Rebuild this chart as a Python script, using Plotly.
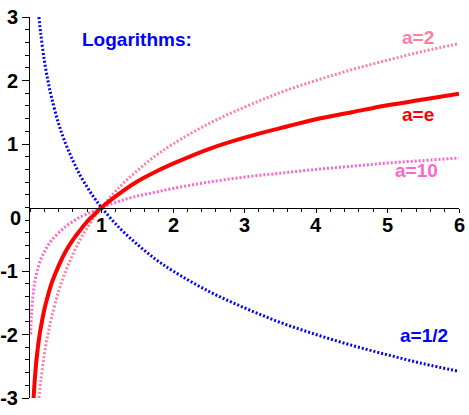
import plotly.graph_objects as go

# ---- data ----
x_e = [0.05, 0.075, 0.1, 0.125, 0.15, 0.2, 0.25, 0.3, 0.4, 0.5, 0.6, 0.7, 0.8, 0.9, 1,
       1.25, 1.5, 1.75, 2, 2.5, 3, 3.5, 4, 4.5, 5, 5.5, 6]
y_e = [-3.0, -2.59, -2.30, -2.08, -1.90, -1.61, -1.39, -1.20, -0.92, -0.69, -0.51, -0.36,
       -0.22, -0.11, 0, 0.22, 0.41, 0.56, 0.69, 0.92, 1.10, 1.25, 1.39, 1.50, 1.61, 1.70, 1.79]

x_2 = [0.125, 0.15, 0.2, 0.25, 0.3, 0.4, 0.5, 0.6, 0.7, 0.8, 0.9, 1,
       1.25, 1.5, 1.75, 2, 2.5, 3, 3.5, 4, 4.5, 5, 5.5, 6]
y_2 = [-3.0, -2.74, -2.32, -2.0, -1.74, -1.32, -1.0, -0.74, -0.51, -0.32, -0.15, 0,
       0.32, 0.58, 0.81, 1.0, 1.32, 1.58, 1.81, 2.0, 2.17, 2.32, 2.46, 2.58]

x_half = [0.125, 0.15, 0.2, 0.25, 0.3, 0.4, 0.5, 0.6, 0.7, 0.8, 0.9, 1,
          1.25, 1.5, 1.75, 2, 2.5, 3, 3.5, 4, 4.5, 5, 5.5, 6]
y_half = [3.0, 2.74, 2.32, 2.0, 1.74, 1.32, 1.0, 0.74, 0.51, 0.32, 0.15, 0,
          -0.32, -0.58, -0.81, -1.0, -1.32, -1.58, -1.81, -2.0, -2.17, -2.32, -2.46, -2.58]

x_10 = [0.01, 0.02, 0.05, 0.075, 0.1, 0.15, 0.2, 0.25, 0.3, 0.4, 0.5, 0.6, 0.7, 0.8, 0.9, 1,
        1.25, 1.5, 1.75, 2, 2.5, 3, 3.5, 4, 4.5, 5, 5.5, 6]
y_10 = [-2.0, -1.70, -1.30, -1.12, -1.0, -0.82, -0.70, -0.60, -0.52, -0.40, -0.30, -0.22,
        -0.15, -0.10, -0.05, 0, 0.10, 0.18, 0.24, 0.30, 0.40, 0.48, 0.54, 0.60, 0.65,
        0.70, 0.74, 0.78]

x_ticks = [1, 2, 3, 4, 5, 6]
y_ticks = [-3, -2, -1, 1, 2, 3]

labels = ["a=2", "a=e", "a=10", "a=1/2"]
label_x = [5.43, 5.43, 5.40, 5.51]
label_y = [2.67, 1.46, 0.59, -2.01]

PINK = "#ff7fa0"
RED = "#ff0000"
HOT = "#ff66cc"
BLUE = "#0000ff"

fig = go.Figure()
fig.add_trace(go.Scatter(x=x_2, y=y_2, mode="lines", line=dict(color=PINK, width=3, dash="2px,2px", shape="spline")))
fig.add_trace(go.Scatter(x=x_10, y=y_10, mode="lines", line=dict(color=HOT, width=3, dash="2px,2px", shape="spline")))
fig.add_trace(go.Scatter(x=x_half, y=y_half, mode="lines", line=dict(color=BLUE, width=3, dash="2px,2px", shape="spline")))
fig.add_trace(go.Scatter(x=x_e, y=y_e, mode="lines", line=dict(color=RED, width=4, shape="spline")))

FAM = "Arial, Liberation Sans"
font = dict(family=FAM, size=20, color="black")
for t, xx, yy, c in zip(labels, label_x, label_y, [PINK, RED, HOT, BLUE]):
    fig.add_annotation(x=xx, y=yy, text="<b>%s</b>" % t, showarrow=False,
                       font=dict(family=FAM, size=19, color=c))
fig.add_annotation(x=1.50, y=2.64, text="<b>Logarithms:</b>", showarrow=False,
                   font=dict(family=FAM, size=19, color=BLUE))
fig.add_annotation(x=0, y=0, xref="x", yref="y", text="<b>0</b>", showarrow=False,
                   xanchor="right", yanchor="middle", xshift=-7, yshift=-10, font=font)
# x tick labels placed just below the x axis
for v in x_ticks:
    fig.add_annotation(x=v, y=0, xref="x", yref="y", text="<b>%d</b>" % v, showarrow=False,
                       xanchor="center", yanchor="middle", yshift=-17, font=font)

fig.update_layout(
    width=469, height=415,
    margin=dict(l=30, r=10, t=17, b=17),
    paper_bgcolor="white", plot_bgcolor="white",
    showlegend=False,
    xaxis=dict(range=[0, 6], tickvals=x_ticks, showticklabels=False,
               showgrid=False, zeroline=False, showline=True, linecolor="black", linewidth=1,
               anchor="free", position=0.5, ticks="outside", ticklen=4, tickcolor="black",
               automargin=False,
               minor=dict(dtick=0.2, tick0=0, ticks="outside", ticklen=3, tickcolor="black")),
    yaxis=dict(range=[-3, 3], tickvals=y_ticks, ticktext=["<b>%d</b>" % v for v in y_ticks],
               showgrid=False, zeroline=False, showline=True, linecolor="black", linewidth=1,
               ticks="outside", ticklen=7, tickcolor="black", tickfont=font, automargin=False,
               ticklabeloverflow="allow",
               minor=dict(dtick=0.2, tick0=0, ticks="outside", ticklen=4, tickcolor="black")),
)
fig.write_html("out.html", config={"displayModeBar": False},
               post_script="document.body.style.margin='0';")
